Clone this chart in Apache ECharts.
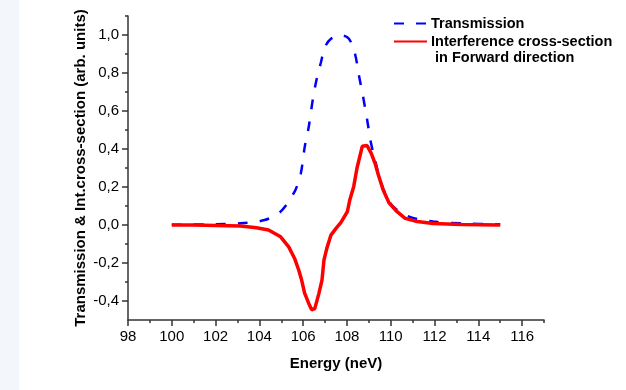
<!DOCTYPE html>
<html><head><meta charset="utf-8">
<script src="https://cdn.jsdelivr.net/npm/echarts@6/dist/echarts.min.js"></script>
<style>html,body{margin:0;padding:0;background:#fff}#c{width:626px;height:390px}</style>
</head><body><div id="c"></div>
<script>
const transE = [100, 101, 102, 103.14, 104.24, 104.97, 105.61, 105.89, 106.07, 106.26, 106.44, 106.62, 106.81, 106.99, 107.27, 107.72, 108.09, 108.37, 108.55, 108.73, 108.92, 109.10, 109.28, 109.47, 109.74, 110.11, 110.84, 111.94, 113.23, 114.88, 115];
const transV = [0.001, 0.002, 0.004, 0.009, 0.026, 0.07, 0.176, 0.27, 0.41, 0.52, 0.66, 0.77, 0.855, 0.935, 0.98, 1.0, 0.98, 0.90, 0.785, 0.68, 0.555, 0.43, 0.344, 0.256, 0.168, 0.097, 0.044, 0.018, 0.009, 0.004, 0.004];
const intE = [100, 101, 102, 103.14, 103.87, 104.42, 104.97, 105.34, 105.61, 105.8, 105.93, 106.07, 106.26, 106.39, 106.53, 106.72, 106.86, 106.95, 107.08, 107.27, 107.5, 107.72, 108.02, 108.13, 108.31, 108.46, 108.70, 108.92, 109.10, 109.28, 109.41, 109.65, 109.93, 110.29, 110.66, 111.21, 111.94, 113.23, 115];
const intV = [0, 0, -0.002, -0.005, -0.014, -0.026, -0.062, -0.115, -0.176, -0.238, -0.29, -0.36, -0.414, -0.446, -0.44, -0.36, -0.29, -0.185, -0.123, -0.053, -0.018, 0.012, 0.07, 0.132, 0.203, 0.3, 0.414, 0.418, 0.38, 0.326, 0.273, 0.185, 0.115, 0.07, 0.035, 0.018, 0.008, 0.003, 0];
const xTicks = [98, 100, 102, 104, 106, 108, 110, 112, 114, 116];
const xMinor = [99, 101, 103, 105, 107, 109, 111, 113, 115, 117];
const yTicks = [-0.4, -0.2, 0, 0.2, 0.4, 0.6, 0.8, 1.0];
const yMinor = [-0.3, -0.1, 0.1, 0.3, 0.5, 0.7, 0.9, 1.1];
const seriesNames = ['Transmission', 'Interference cross-section'];
const legendExtra = 'in Forward direction';
const xTitle = 'Energy (neV)';
const yTitle = 'Transmission & Int.cross-section (arb. units)';

const chart = echarts.init(document.getElementById('c'), null, {renderer: 'canvas'});
const axisCol = '#333';
const FF = '"Liberation Sans", Arial, sans-serif';
const fmt = v => v.toFixed(1).replace('.', ',');
chart.setOption({
  animation: false,
  backgroundColor: '#fff',
  graphic: [
    {type: 'rect', left: 0, top: 0, shape: {x: 0, y: 0, width: 19, height: 390}, style: {fill: '#f3f7fc'}, z: -10},
    {type: 'text', left: 435, top: 50, style: {text: legendExtra, font: 'bold 14.5px ' + FF, fill: '#000'}}
  ],
  grid: {left: 128, right: 82, top: 16, bottom: 70},
  legend: {
    orient: 'vertical', left: 388, top: 11, itemWidth: 33, itemHeight: 12, itemGap: 3,
    itemStyle: {opacity: 0},
    textStyle: {fontFamily: FF, fontWeight: 'bold', fontSize: 14.5, color: '#000', padding: [0, 0, 0, -1]},
    data: seriesNames
  },
  xAxis: [{
    type: 'value', min: 98, max: 117, interval: 1,
    name: xTitle, nameLocation: 'middle', nameGap: 36, nameMoveOverlap: false,
    nameTextStyle: {fontFamily: FF, fontWeight: 'bold', fontSize: 15, color: '#000'},
    axisLine: {onZero: false, lineStyle: {color: axisCol, width: 1.5}},
    axisTick: {customValues: xTicks, length: 6, lineStyle: {color: axisCol, width: 1.5}},
    axisLabel: {customValues: xTicks, margin: 9, fontFamily: FF, fontSize: 15, color: '#000'},
    splitLine: {show: false}
  }, {
    type: 'value', min: 98, max: 117, position: 'bottom',
    axisLine: {show: false, onZero: false},
    axisTick: {customValues: xMinor, length: 3, lineStyle: {color: axisCol, width: 1.5}},
    axisLabel: {show: false}, splitLine: {show: false}
  }],
  yAxis: [{
    type: 'value', min: -0.5, max: 1.1, interval: 0.1,
    name: yTitle, nameLocation: 'middle', nameGap: 40, nameMoveOverlap: false,
    nameTextStyle: {fontFamily: FF, fontWeight: 'bold', fontSize: 15, color: '#000'},
    axisLine: {onZero: false, lineStyle: {color: axisCol, width: 1.5}},
    axisTick: {customValues: yTicks, length: 6, lineStyle: {color: axisCol, width: 1.5}},
    axisLabel: {customValues: yTicks, formatter: fmt, margin: 9, fontFamily: FF, fontSize: 15, color: '#000'},
    splitLine: {show: false}
  }, {
    type: 'value', min: -0.5, max: 1.1, position: 'left',
    axisLine: {show: false, onZero: false},
    axisTick: {customValues: yMinor, length: 3, lineStyle: {color: axisCol, width: 1.5}},
    axisLabel: {show: false}, splitLine: {show: false}
  }],
  series: [{
    name: seriesNames[0], type: 'line', showSymbol: false, symbol: 'none', smooth: 0.3,
    data: transE.map((e, i) => [e, transV[i]]),
    lineStyle: {color: '#0000ff', width: 2.5, type: [10, 12]}, itemStyle: {color: '#0000ff'}, z: 2
  }, {
    name: seriesNames[1], type: 'line', showSymbol: false, symbol: 'none', smooth: false,
    data: intE.map((e, i) => [e, intV[i]]),
    lineStyle: {color: '#ff0000', width: 3.5}, itemStyle: {color: '#ff0000'}, z: 3
  }]
});
</script></body></html>
